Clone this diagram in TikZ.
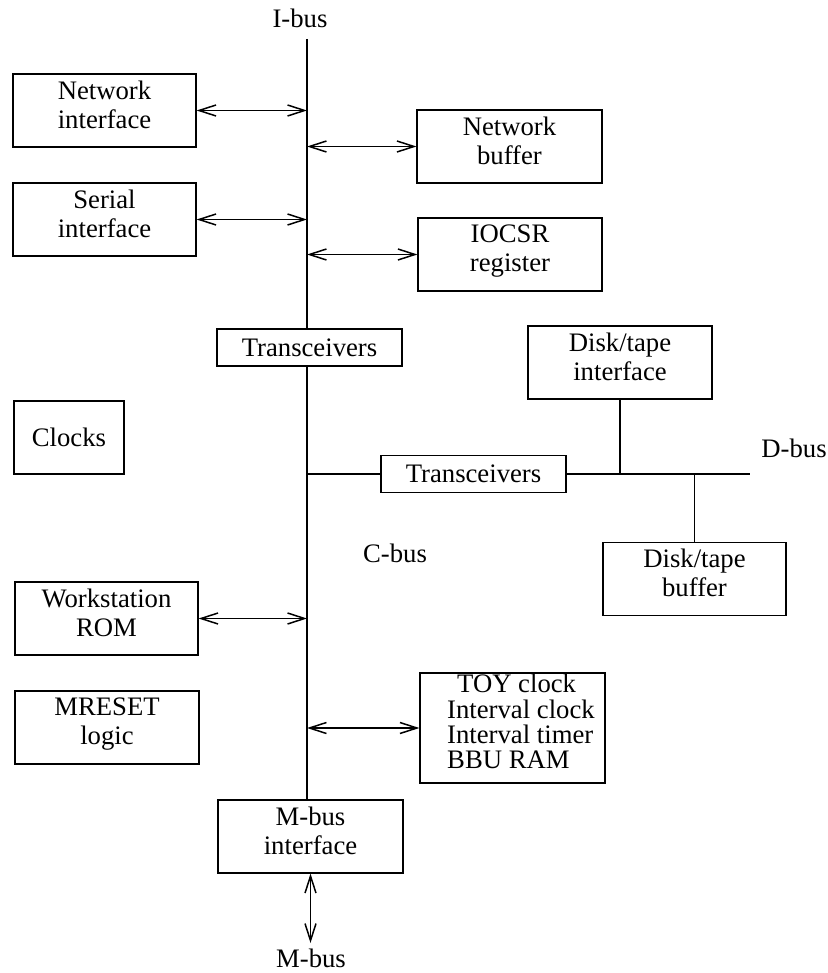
\documentclass[tikz,border=0pt]{standalone}
\usepackage{fontspec}
\setmainfont{Liberation Serif}
\usetikzlibrary{arrows.meta}
\begin{document}
\begin{tikzpicture}[x=1pt,y=-1pt,
  every node/.style={inner sep=0pt, font=\fontsize{26.7}{29}\selectfont},
  box/.style={draw, line width=1.2pt, align=center, minimum width=#1},
  box/.default=184pt,
  twoline/.style={minimum height=73pt, text depth=12pt},
  oneline/.style={minimum height=37pt},
  buswire/.style={line width=1.1pt},
  bi/.style={line width=1.1pt, {Straight Barb[length=17pt,width=11pt,line width=1.5pt]}-{Straight Barb[length=17pt,width=11pt,line width=1.5pt]}},
  lbl/.style={anchor=base}
]
\useasboundingbox (0,0) rectangle (827,973);

% labels
\node[lbl] (ibus) at (300,28) {I-bus};
\node[lbl] (dbus) at (794,457) {D-bus};
\node[lbl] (cbus) at (395,562) {C-bus};
\node[lbl] (mbus) at (311,967) {M-bus};

% boxes
\node[box=183pt, twoline] (ni) at (104.5,110.5) {Network\\interface};
\node[box=185pt, twoline] (nb) at (509.5,146.5) {Network\\buffer};
\node[box=183pt, twoline] (si) at (104.5,219.5) {Serial\\interface};
\node[box=184pt, twoline] (io) at (510,254.5) {IOCSR\\register};
\node[box=185pt, oneline] (tr1) at (309.5,347.5) {Transceivers};
\node[box=184pt, twoline] (dti) at (620,362.5) {Disk/tape\\interface};
\node[box=110pt, minimum height=73pt] (clk) at (69,437.5) {Clocks};
\node[box=185pt, oneline] (tr2) at (473.5,474) {Transceivers};
\node[box=183pt, twoline] (dtb) at (694.5,579) {Disk/tape\\buffer};
\node[box=183pt, twoline] (wrom) at (106.5,618.5) {Workstation\\ROM};
\node[box=184pt, twoline] (mr) at (107,727.5) {MRESET\\logic};
\node[box=185pt, minimum height=110pt] (toy) at (512.5,728) {};
\node[anchor=north west, align=left, font=\fontsize{26.7}{25.3}\selectfont] (toytxt) at (447,674)
  {\hspace*{10pt}TOY clock\\Interval clock\\Interval timer\\BBU RAM};
\node[box=185pt, twoline] (mbi) at (310.5,836.5) {M-bus\\interface};

% bus coordinates
\coordinate (btop) at (307,39);
\coordinate (dend) at (750,474);
\coordinate (mend) at (310.5,943);

% C-bus / I-bus vertical
\draw[buswire] (btop) -- (btop |- tr1.north);
\draw[buswire] (btop |- tr1.south) -- (btop |- mbi.north);

% bidirectional connections
\draw[bi] (ni.east) -- (ni.east -| btop);
\draw[bi] (btop |- nb.west) -- (nb.west);
\draw[bi] (si.east) -- (si.east -| btop);
\draw[bi] (btop |- io.west) -- (io.west);
\draw[bi] (wrom.east) -- (wrom.east -| btop);
\draw[bi] (btop |- toy.west) -- (toy.west);
\draw[bi] (mbi.south) -- (mend);

% D-bus
\draw[buswire] (btop |- tr2.west) -- (tr2.west);
\draw[buswire] (tr2.east) -- (dend);
\draw[buswire] (dti.south) -- (dti.south |- dend);
\draw[buswire] (dtb.north) -- (dtb.north |- dend);
\end{tikzpicture}
\end{document}
